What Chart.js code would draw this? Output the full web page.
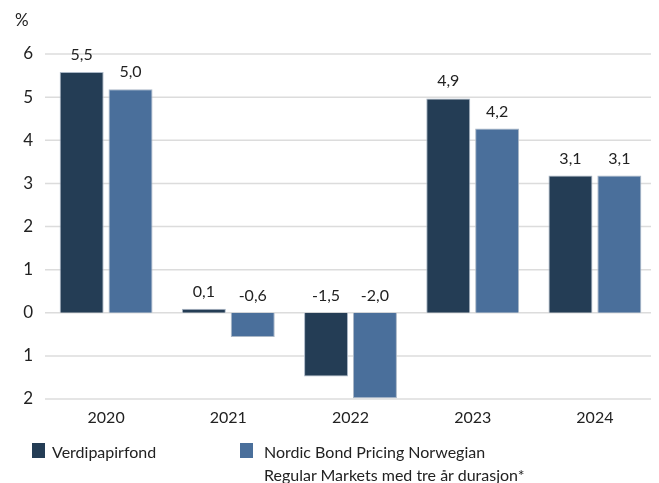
<!DOCTYPE html>
<html>
<head>
<meta charset="utf-8">
<script src="https://cdn.jsdelivr.net/npm/chart.js@4"></script>
<style>
  html, body { margin: 0; padding: 0; background: #fff; }
  #wrap { position: relative; width: 659px; height: 483px; font-family: "Lato", sans-serif; color: #222; }
  canvas { position: absolute; left: 0; top: 0; }
  .unit { position: absolute; left: 15px; top: 9px; font-size: 17px; }
  .lg { position: absolute; font-size: 16px; line-height: 23px; }
  .sw { position: absolute; width: 13px; height: 15px; }
</style>
</head>
<body>
<div id="wrap">
  <canvas id="c" width="659" height="483"></canvas>
  <div class="unit">%</div>
  <div class="sw" style="left:32px; top:443px; background:#243d55;"></div>
  <div class="lg" id="lg1" style="left:52px; top:440px;"></div>
  <div class="sw" style="left:240px; top:443px; background:#4a6f9b;"></div>
  <div class="lg" id="lg2" style="left:264px; top:440px;"></div>
</div>
<script>
const categories = ["2020", "2021", "2022", "2023", "2024"];
const seriesNames = ["Verdipapirfond", "Nordic Bond Pricing Norwegian\nRegular Markets med tre år durasjon*"];
const fundValues = [5.58, 0.09, -1.48, 4.97, 3.18];
const benchValues = [5.18, -0.56, -1.98, 4.27, 3.18];
const fundLabels = ["5,5", "0,1", "-1,5", "4,9", "3,1"];
const benchLabels = ["5,0", "-0,6", "-2,0", "4,2", "3,1"];
const yTicks = [-2, -1, 0, 1, 2, 3, 4, 5, 6];

document.getElementById('lg1').textContent = seriesNames[0];
document.getElementById('lg2').innerHTML = seriesNames[1].split('\n').join('<br>');

const FONT = '"Lato", sans-serif';
const labelTexts = [fundLabels, benchLabels];

const gridLines = {
  id: 'gridLines',
  beforeDatasetsDraw(chart) {
    const ctx = chart.ctx, ys = chart.scales.y, a = chart.chartArea;
    ctx.save();
    ctx.strokeStyle = '#dcdcdc';
    ctx.lineWidth = 1.5;
    ys.ticks.forEach(t => {
      const y = ys.getPixelForValue(t.value);
      ctx.beginPath();
      ctx.moveTo(a.left, y);
      ctx.lineTo(a.right - 5, y);
      ctx.stroke();
    });
    ctx.restore();
  }
};

const valueLabels = {
  id: 'valueLabels',
  afterDatasetsDraw(chart) {
    const ctx = chart.ctx;
    const y0 = chart.scales.y.getPixelForValue(0);
    ctx.save();
    ctx.font = '16px ' + FONT;
    ctx.fillStyle = '#222';
    ctx.textAlign = 'center';
    ctx.textBaseline = 'alphabetic';
    chart.data.datasets.forEach((ds, di) => {
      const meta = chart.getDatasetMeta(di);
      meta.data.forEach((bar, i) => {
        const top = Math.min(bar.y, y0);
        ctx.fillText(labelTexts[di][i], bar.x, top - 12);
      });
    });
    ctx.restore();
  }
};

new Chart(document.getElementById('c'), {
  type: 'bar',
  data: {
    labels: categories,
    datasets: [
      { label: seriesNames[0], data: fundValues, backgroundColor: '#243d55', borderColor: '#aab7c6', borderWidth: 1 },
      { label: seriesNames[1], data: benchValues, backgroundColor: '#4a6f9b', borderColor: '#aab7c6', borderWidth: 1 }
    ]
  },
  options: {
    responsive: false,
    animation: false,
    layout: { padding: { left: 0, right: 3, top: 54, bottom: 56 } },
    plugins: { legend: { display: false }, tooltip: { enabled: false } },
    datasets: { bar: { categoryPercentage: 0.8, barPercentage: 0.9 } },
    scales: {
      x: {
        grid: { display: false },
        border: { display: false },
        ticks: { color: '#222', font: { family: FONT, size: 16 }, padding: 1 },
        afterFit(s) { s.height = 28; }
      },
      y: {
        min: -2, max: 6,
        afterBuildTicks(s) { s.ticks = yTicks.map(v => ({ value: v })); },
        grid: { display: false, drawTicks: false },
        border: { display: false },
        ticks: {
          color: '#222', font: { family: FONT, size: 17 }, padding: 12,
          callback: v => String(Math.abs(v))
        },
        afterFit(s) { s.width = 45; }
      }
    }
  },
  plugins: [gridLines, valueLabels]
});
</script>
</body>
</html>
